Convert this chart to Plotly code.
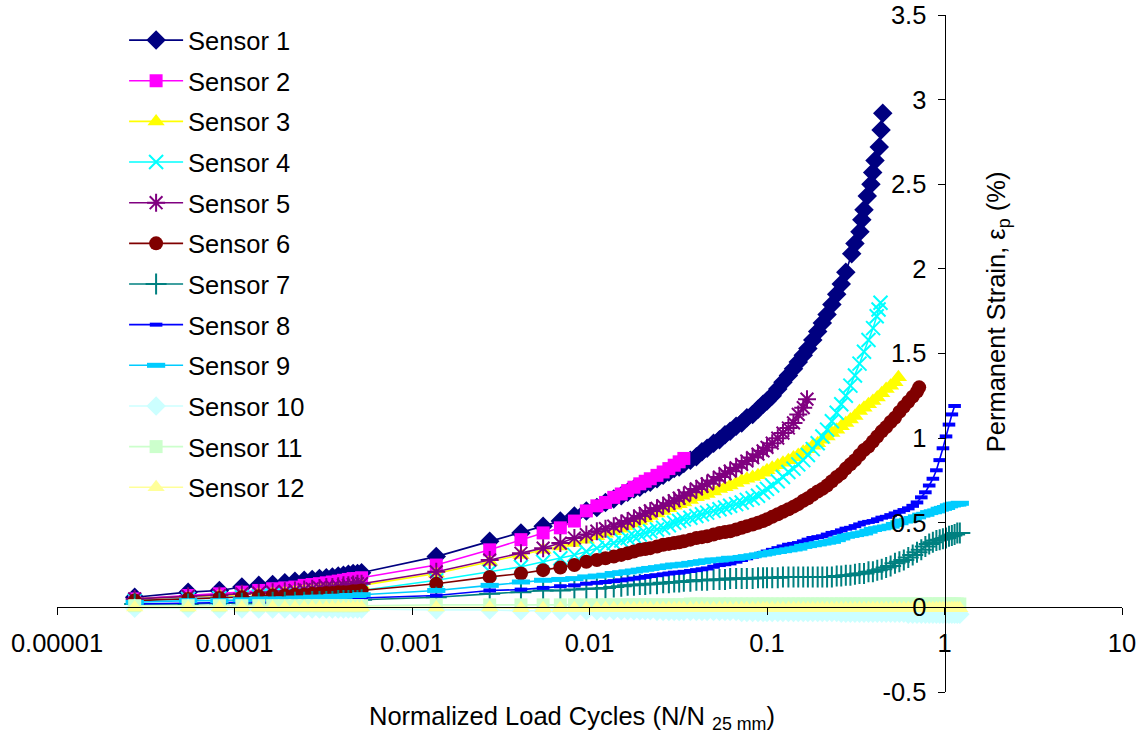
import plotly.graph_objects as go

# ---------------- data ----------------
# shared early load-cycle positions (N/N25mm)
X_EARLY = [2.74e-5, 5.48e-5, 8.22e-5, 1.10e-4, 1.37e-4, 1.64e-4, 1.92e-4, 2.19e-4,
           2.47e-4, 2.74e-4, 3.01e-4, 3.29e-4, 3.56e-4, 3.84e-4, 4.11e-4, 4.38e-4,
           4.66e-4, 4.93e-4, 5.20e-4, 1.37e-3, 2.74e-3, 4.11e-3, 5.48e-3, 6.85e-3, 8.22e-3]
# shared later positions (76)
X_GRID = [0.0096, 0.011, 0.0123, 0.0137, 0.0151, 0.0164, 0.0178, 0.0192, 0.0206, 0.022,
          0.024, 0.026, 0.028, 0.030, 0.032, 0.034, 0.037, 0.040, 0.043, 0.046,
          0.050, 0.054, 0.058, 0.062, 0.067, 0.072, 0.077, 0.083, 0.089, 0.095,
          0.10, 0.107, 0.115, 0.123, 0.132, 0.141, 0.150, 0.160, 0.170, 0.181,
          0.193, 0.205, 0.218, 0.232, 0.247, 0.262, 0.278, 0.295, 0.313, 0.332,
          0.352, 0.373, 0.395, 0.418, 0.443, 0.469, 0.497, 0.526, 0.557, 0.59,
          0.625, 0.662, 0.70, 0.74, 0.78, 0.82, 0.86, 0.90, 0.94, 0.98,
          1.02, 1.06, 1.10, 1.14, 1.18, 1.22]

S1_EARLY = [0.06, 0.09, 0.10, 0.12, 0.13, 0.135, 0.145, 0.155, 0.16, 0.165, 0.17, 0.175, 0.18,
            0.185, 0.19, 0.195, 0.20, 0.20, 0.205, 0.30, 0.39, 0.44, 0.48, 0.51, 0.54]
S1_GRID = [0.57, 0.59, 0.62, 0.64, 0.66, 0.68, 0.70, 0.71, 0.73, 0.74,
           0.76, 0.78, 0.80, 0.82, 0.83, 0.85, 0.87, 0.89, 0.92, 0.94,
           0.97, 0.99, 1.02, 1.04, 1.07, 1.09, 1.12, 1.14, 1.17, 1.20,
           1.22, 1.25, 1.29, 1.33, 1.37, 1.41, 1.45, 1.49, 1.53, 1.58,
           1.63, 1.68, 1.73, 1.79, 1.85, 1.91, 1.98]
S1_END_X = [0.30, 0.313, 0.334, 0.342, 0.352, 0.367, 0.385, 0.394, 0.406, 0.429, 0.439, 0.449]
S1_END_Y = [2.09, 2.15, 2.22, 2.29, 2.35, 2.43, 2.50, 2.57, 2.64, 2.72, 2.82, 2.92]

S2_EARLY = [0.05, 0.07, 0.08, 0.09, 0.10, 0.11, 0.115, 0.12, 0.13, 0.135, 0.14, 0.145, 0.15,
            0.155, 0.16, 0.165, 0.17, 0.17, 0.175, 0.25, 0.34, 0.40, 0.44, 0.47, 0.51]
S2_GRID = [0.57, 0.60, 0.62, 0.65, 0.67, 0.69, 0.71, 0.73, 0.745, 0.76,
           0.78, 0.80, 0.82, 0.84, 0.86, 0.88]
S2_END_X, S2_END_Y = [], []

S3_EARLY = [0.05, 0.06, 0.07, 0.075, 0.08, 0.085, 0.09, 0.095, 0.10, 0.10, 0.105, 0.11, 0.11,
            0.115, 0.12, 0.12, 0.125, 0.13, 0.13, 0.20, 0.27, 0.31, 0.34, 0.36, 0.38]
S3_GRID = [0.40, 0.42, 0.435, 0.45, 0.465, 0.48, 0.495, 0.51, 0.525, 0.54,
           0.555, 0.57, 0.585, 0.60, 0.61, 0.62, 0.635, 0.65, 0.66, 0.67,
           0.685, 0.70, 0.71, 0.72, 0.735, 0.75, 0.76, 0.77, 0.78, 0.795,
           0.81, 0.825, 0.84, 0.855, 0.87, 0.885, 0.90, 0.92, 0.935, 0.955,
           0.97, 0.99, 1.01, 1.03, 1.05, 1.07, 1.09, 1.11, 1.13, 1.16,
           1.18, 1.20, 1.22, 1.24, 1.265, 1.29, 1.31, 1.33]
S3_END_X, S3_END_Y = [0.55], [1.36]

S4_EARLY = [0.04, 0.05, 0.055, 0.06, 0.065, 0.07, 0.07, 0.075, 0.08, 0.08, 0.085, 0.085, 0.09,
            0.09, 0.095, 0.095, 0.10, 0.10, 0.10, 0.16, 0.21, 0.24, 0.27, 0.29, 0.31]
S4_GRID = [0.33, 0.35, 0.365, 0.38, 0.395, 0.41, 0.42, 0.43, 0.44, 0.45,
           0.46, 0.47, 0.485, 0.50, 0.51, 0.52, 0.53, 0.54, 0.55, 0.56,
           0.57, 0.58, 0.59, 0.60, 0.61, 0.62, 0.635, 0.645, 0.66, 0.68,
           0.70, 0.72, 0.745, 0.77, 0.80, 0.82, 0.845, 0.87, 0.90, 0.935,
           0.97, 1.01, 1.05, 1.10, 1.15, 1.20, 1.25, 1.31, 1.37, 1.44, 1.51]
S4_END_X, S4_END_Y = [0.373, 0.396, 0.415, 0.425, 0.436], [1.58, 1.65, 1.72, 1.76, 1.80]

S5_EARLY = [0.05, 0.065, 0.07, 0.08, 0.085, 0.09, 0.095, 0.10, 0.105, 0.11, 0.115, 0.12, 0.12,
            0.125, 0.13, 0.13, 0.135, 0.14, 0.14, 0.21, 0.28, 0.32, 0.35, 0.38, 0.41]
S5_GRID = [0.43, 0.45, 0.465, 0.48, 0.495, 0.51, 0.525, 0.54, 0.555, 0.57,
           0.585, 0.60, 0.615, 0.63, 0.645, 0.66, 0.68, 0.70, 0.715, 0.73,
           0.75, 0.77, 0.79, 0.805, 0.825, 0.845, 0.865, 0.885, 0.905, 0.925,
           0.945, 0.97, 1.0, 1.03, 1.06, 1.09, 1.14, 1.18]
S5_END_X, S5_END_Y = [0.168], [1.23]

S6_EARLY = [0.04, 0.05, 0.055, 0.06, 0.065, 0.07, 0.07, 0.075, 0.075, 0.08, 0.08, 0.085, 0.085,
            0.09, 0.09, 0.09, 0.095, 0.095, 0.10, 0.14, 0.18, 0.20, 0.22, 0.235, 0.25]
S6_GRID = [0.27, 0.28, 0.29, 0.30, 0.31, 0.32, 0.33, 0.34, 0.345, 0.35,
           0.36, 0.37, 0.375, 0.38, 0.385, 0.39, 0.40, 0.41, 0.415, 0.42,
           0.43, 0.44, 0.445, 0.45, 0.46, 0.47, 0.48, 0.49, 0.50, 0.51,
           0.52, 0.535, 0.55, 0.565, 0.58, 0.595, 0.61, 0.63, 0.645, 0.665,
           0.685, 0.70, 0.72, 0.745, 0.77, 0.79, 0.82, 0.845, 0.87, 0.90,
           0.93, 0.95, 0.98, 1.01, 1.04, 1.065, 1.095, 1.12, 1.155, 1.185,
           1.215, 1.245, 1.275]
S6_END_X, S6_END_Y = [0.72], [1.30]

S7_EARLY = [0.02, 0.02, 0.025, 0.025, 0.025, 0.03, 0.03, 0.03, 0.03, 0.035, 0.035, 0.035, 0.035,
            0.04, 0.04, 0.04, 0.04, 0.04, 0.045, 0.06, 0.08, 0.09, 0.10, 0.10, 0.105]
S7_GRID = [0.11, 0.11, 0.115, 0.12, 0.125, 0.13, 0.13, 0.135, 0.135, 0.14,
           0.14, 0.145, 0.145, 0.15, 0.15, 0.155, 0.155, 0.16, 0.16, 0.16,
           0.165, 0.165, 0.165, 0.17, 0.17, 0.17, 0.17, 0.17, 0.175, 0.175,
           0.175, 0.175, 0.175, 0.18, 0.18, 0.18, 0.18, 0.18, 0.18, 0.18,
           0.18, 0.18, 0.18, 0.18, 0.185, 0.185, 0.19, 0.19, 0.195, 0.20,
           0.20, 0.21, 0.21, 0.22, 0.225, 0.235, 0.245, 0.26, 0.27, 0.28,
           0.295, 0.31, 0.325, 0.34, 0.36, 0.375, 0.385, 0.395, 0.40, 0.405,
           0.41, 0.42, 0.425, 0.43, 0.44, 0.44]
S7_END_X, S7_END_Y = [], []

S8_EARLY = [0.02, 0.025, 0.03, 0.03, 0.03, 0.035, 0.035, 0.035, 0.04, 0.04, 0.04, 0.045, 0.045,
            0.045, 0.05, 0.05, 0.05, 0.055, 0.055, 0.07, 0.10, 0.105, 0.115, 0.125, 0.13]
S8_GRID = [0.14, 0.145, 0.15, 0.155, 0.16, 0.165, 0.17, 0.175, 0.18, 0.185,
           0.19, 0.195, 0.20, 0.205, 0.205, 0.21, 0.215, 0.22, 0.225, 0.23,
           0.24, 0.25, 0.255, 0.26, 0.27, 0.28, 0.29, 0.30, 0.31, 0.32,
           0.33, 0.34, 0.35, 0.36, 0.37, 0.375, 0.38, 0.39, 0.40, 0.41,
           0.415, 0.42, 0.43, 0.44, 0.445, 0.455, 0.465, 0.47, 0.48, 0.49,
           0.50, 0.505, 0.51, 0.52, 0.53, 0.535, 0.545, 0.555, 0.565, 0.575,
           0.585, 0.60, 0.62, 0.65, 0.68, 0.72, 0.76, 0.81, 0.87, 0.94,
           1.01, 1.08, 1.14, 1.19]
S8_END_X, S8_END_Y = [], []

S9_EARLY = [0.03, 0.04, 0.04, 0.045, 0.05, 0.05, 0.05, 0.055, 0.055, 0.06, 0.06, 0.06, 0.065,
            0.065, 0.065, 0.07, 0.07, 0.07, 0.075, 0.10, 0.13, 0.15, 0.16, 0.165, 0.17]
S9_GRID = [0.18, 0.185, 0.19, 0.20, 0.205, 0.21, 0.215, 0.22, 0.225, 0.23,
           0.235, 0.24, 0.245, 0.25, 0.25, 0.255, 0.26, 0.265, 0.27, 0.275,
           0.28, 0.28, 0.285, 0.29, 0.29, 0.295, 0.30, 0.305, 0.31, 0.315,
           0.32, 0.325, 0.33, 0.335, 0.34, 0.345, 0.35, 0.36, 0.365, 0.37,
           0.375, 0.38, 0.385, 0.39, 0.40, 0.41, 0.42, 0.425, 0.43, 0.435,
           0.44, 0.45, 0.46, 0.465, 0.47, 0.475, 0.48, 0.49, 0.50, 0.51,
           0.515, 0.525, 0.535, 0.545, 0.55, 0.56, 0.565, 0.57, 0.58, 0.585,
           0.59, 0.60, 0.605, 0.61, 0.61, 0.615]
S9_END_X, S9_END_Y = [], []

S10_EARLY = [-0.005, -0.005, -0.01, -0.01, -0.01, -0.01, -0.01, -0.01, -0.01, -0.01, -0.01,
             -0.01, -0.01, -0.01, -0.01, -0.01, -0.01, -0.01, -0.01, -0.015, -0.015, -0.02,
             -0.02, -0.02, -0.02]
S10_GRID = [-0.02, -0.02, -0.02, -0.02, -0.02, -0.02, -0.02, -0.02, -0.02, -0.02,
            -0.025, -0.025, -0.025, -0.025, -0.025, -0.025, -0.025, -0.025, -0.025, -0.025,
            -0.025, -0.025, -0.025, -0.025, -0.025, -0.03, -0.03, -0.03, -0.03, -0.03,
            -0.03, -0.03, -0.03, -0.03, -0.03, -0.03, -0.03, -0.03, -0.03, -0.03,
            -0.03, -0.03, -0.03, -0.03, -0.03, -0.035, -0.035, -0.035, -0.035, -0.035,
            -0.035, -0.035, -0.035, -0.035, -0.035, -0.035, -0.035, -0.035, -0.035, -0.035,
            -0.04, -0.04, -0.04, -0.04, -0.04, -0.04, -0.04, -0.04, -0.04, -0.04,
            -0.04, -0.04, -0.04, -0.04, -0.04, -0.04]
S10_END_X, S10_END_Y = [], []

S11_EARLY = [0.01, 0.01, 0.01, 0.01, 0.01, 0.01, 0.01, 0.01, 0.01, 0.01, 0.01, 0.01, 0.01,
             0.01, 0.01, 0.01, 0.01, 0.01, 0.01, 0.015, 0.015, 0.015, 0.015, 0.015, 0.015]
S11_GRID = [0.015, 0.015, 0.015, 0.015, 0.015, 0.015, 0.015, 0.015, 0.015, 0.015,
            0.015, 0.015, 0.015, 0.015, 0.015, 0.015, 0.02, 0.02, 0.02, 0.02,
            0.02, 0.02, 0.02, 0.02, 0.02, 0.02, 0.02, 0.02, 0.02, 0.02,
            0.02, 0.02, 0.02, 0.02, 0.02, 0.02, 0.02, 0.02, 0.02, 0.02,
            0.02, 0.02, 0.02, 0.02, 0.02, 0.02, 0.02, 0.02, 0.02, 0.02,
            0.02, 0.02, 0.02, 0.02, 0.02, 0.02, 0.02, 0.02, 0.02, 0.02,
            0.02, 0.02, 0.02, 0.02, 0.02, 0.02, 0.02, 0.02, 0.02, 0.02,
            0.02, 0.02, 0.02, 0.02, 0.02, 0.02]
S11_END_X, S11_END_Y = [], []

S12_EARLY = [0.0, 0.0, 0.0, 0.0, 0.0, 0.0, 0.0, 0.0, 0.0, 0.0, 0.0, 0.0, 0.0, 0.0, 0.0, 0.0,
             0.0, 0.0, 0.0, 0.0, 0.0, -0.005, -0.005, -0.005, -0.005]
S12_GRID = [-0.005, -0.005, -0.005, -0.005, -0.005, -0.005, -0.005, -0.005, -0.005, -0.005,
            -0.005, -0.005, -0.005, -0.005, -0.005, -0.005, -0.005, -0.005, -0.005, -0.005,
            -0.005, -0.005, -0.005, -0.005, -0.005, -0.005, -0.005, -0.005, -0.005, -0.005,
            -0.005, -0.005, -0.005, -0.005, -0.005, -0.005, -0.005, -0.005, -0.005, -0.005,
            -0.005, -0.005, -0.005, -0.005, -0.005, -0.005, -0.005, -0.005, -0.005, -0.005,
            -0.005, -0.005, -0.005, -0.005, -0.005, -0.005, -0.005, -0.005, -0.005, -0.005,
            -0.005, -0.005, -0.005, -0.005, -0.005, -0.005, -0.005, -0.005, -0.005, -0.005,
            -0.005, -0.005, -0.005, -0.005, -0.005, -0.005]
S12_END_X, S12_END_Y = [], []

SENSOR_NAMES = ["Sensor 1", "Sensor 2", "Sensor 3", "Sensor 4", "Sensor 5", "Sensor 6",
                "Sensor 7", "Sensor 8", "Sensor 9", "Sensor 10", "Sensor 11", "Sensor 12"]

X_TICKS = [1e-5, 1e-4, 1e-3, 1e-2, 1e-1, 1, 10]
X_TICK_TEXT = ["0.00001", "0.0001", "0.001", "0.01", "0.1", "1", "10"]
Y_TICKS = [-0.5, 0, 0.5, 1, 1.5, 2, 2.5, 3, 3.5]
Y_TICK_TEXT = ["-0.5", "0", "0.5", "1", "1.5", "2", "2.5", "3", "3.5"]

SERIES = [
    (S1_EARLY, S1_GRID, S1_END_X, S1_END_Y),
    (S2_EARLY, S2_GRID, S2_END_X, S2_END_Y),
    (S3_EARLY, S3_GRID, S3_END_X, S3_END_Y),
    (S4_EARLY, S4_GRID, S4_END_X, S4_END_Y),
    (S5_EARLY, S5_GRID, S5_END_X, S5_END_Y),
    (S6_EARLY, S6_GRID, S6_END_X, S6_END_Y),
    (S7_EARLY, S7_GRID, S7_END_X, S7_END_Y),
    (S8_EARLY, S8_GRID, S8_END_X, S8_END_Y),
    (S9_EARLY, S9_GRID, S9_END_X, S9_END_Y),
    (S10_EARLY, S10_GRID, S10_END_X, S10_END_Y),
    (S11_EARLY, S11_GRID, S11_END_X, S11_END_Y),
    (S12_EARLY, S12_GRID, S12_END_X, S12_END_Y),
]

# ---------------- styles ----------------
COLORS = ["#000080", "#FF00FF", "#FFFF00", "#00FFFF", "#800080", "#800000",
          "#008080", "#0000FF", "#00CCFF", "#CCFFFF", "#CCFFCC", "#FFFF99"]
SYMBOLS = ["diamond", "square", "triangle-up", "x-thin-open", "asterisk-open", "circle",
           "cross-thin-open", "line-ew-open", "line-ew-open", "diamond", "square", "triangle-up"]
SIZES = [15, 13, 15, 14, 15, 14, 15, 9, 13, 15, 13, 15]
MLINE = [0, 0, 0, 2, 2, 0, 2, 4, 5, 0, 0, 0]

FONT = "Liberation Sans, Arial, sans-serif"
FS = 25.5

fig = go.Figure()
for i, (early, grid, ex, ey) in enumerate(SERIES):
    xs = X_EARLY + X_GRID[:len(grid)] + ex
    ys = early + grid + ey
    fig.add_trace(go.Scatter(
        x=xs, y=ys, mode="lines+markers", name=SENSOR_NAMES[i],
        legendgroup=SENSOR_NAMES[i],
        line=dict(color=COLORS[i], width=1.6),
        marker=dict(symbol=SYMBOLS[i], size=SIZES[i], color=COLORS[i],
                    line=dict(color=COLORS[i], width=MLINE[i])),
    ))

fig.update_layout(
    width=1142, height=740,
    margin=dict(l=57, r=20, t=15, b=48),
    paper_bgcolor="white", plot_bgcolor="white",
    font=dict(family=FONT, size=FS, color="black"),
    showlegend=True,
    legend=dict(x=0.063, y=0.997, xanchor="left", yanchor="top",
                bgcolor="rgba(0,0,0,0)", font=dict(size=FS, family=FONT),
                tracegroupgap=4.5, itemsizing="trace", itemwidth=54,
                maxheight=720),
    xaxis=dict(type="log", range=[-5, 1], anchor="free", position=0.125,
               automargin=False,
               showgrid=False, zeroline=False, showline=True, linecolor="black",
               linewidth=1, ticks="outside", ticklen=7, tickcolor="black",
               tickvals=X_TICKS, ticktext=X_TICK_TEXT, ticklabelstandoff=6,
               tickfont=dict(size=FS, family=FONT)),
    yaxis=dict(range=[-0.5, 3.5], anchor="free", position=5 / 6, side="left",
               automargin=False,
               showgrid=False, zeroline=False, showline=True, linecolor="black",
               linewidth=1, ticks="outside", ticklen=7, tickcolor="black",
               tickvals=Y_TICKS, ticktext=Y_TICK_TEXT, ticklabelstandoff=6,
               tickfont=dict(size=FS, family=FONT)),
    annotations=[
        dict(text="Normalized Load Cycles (N/N <sub>25 mm</sub>)", xref="paper", yref="paper",
             x=0.4836, y=-0.0384, xanchor="center", yanchor="middle", showarrow=False,
             font=dict(size=FS, family=FONT)),
        dict(text="Permanent Strain, ε<sub>p</sub> (%)", xref="paper", yref="paper",
             x=0.8836, y=0.561, xanchor="center", yanchor="middle", textangle=-90,
             showarrow=False, font=dict(size=FS, family=FONT)),
    ],
)

fig.write_html("out.html")
